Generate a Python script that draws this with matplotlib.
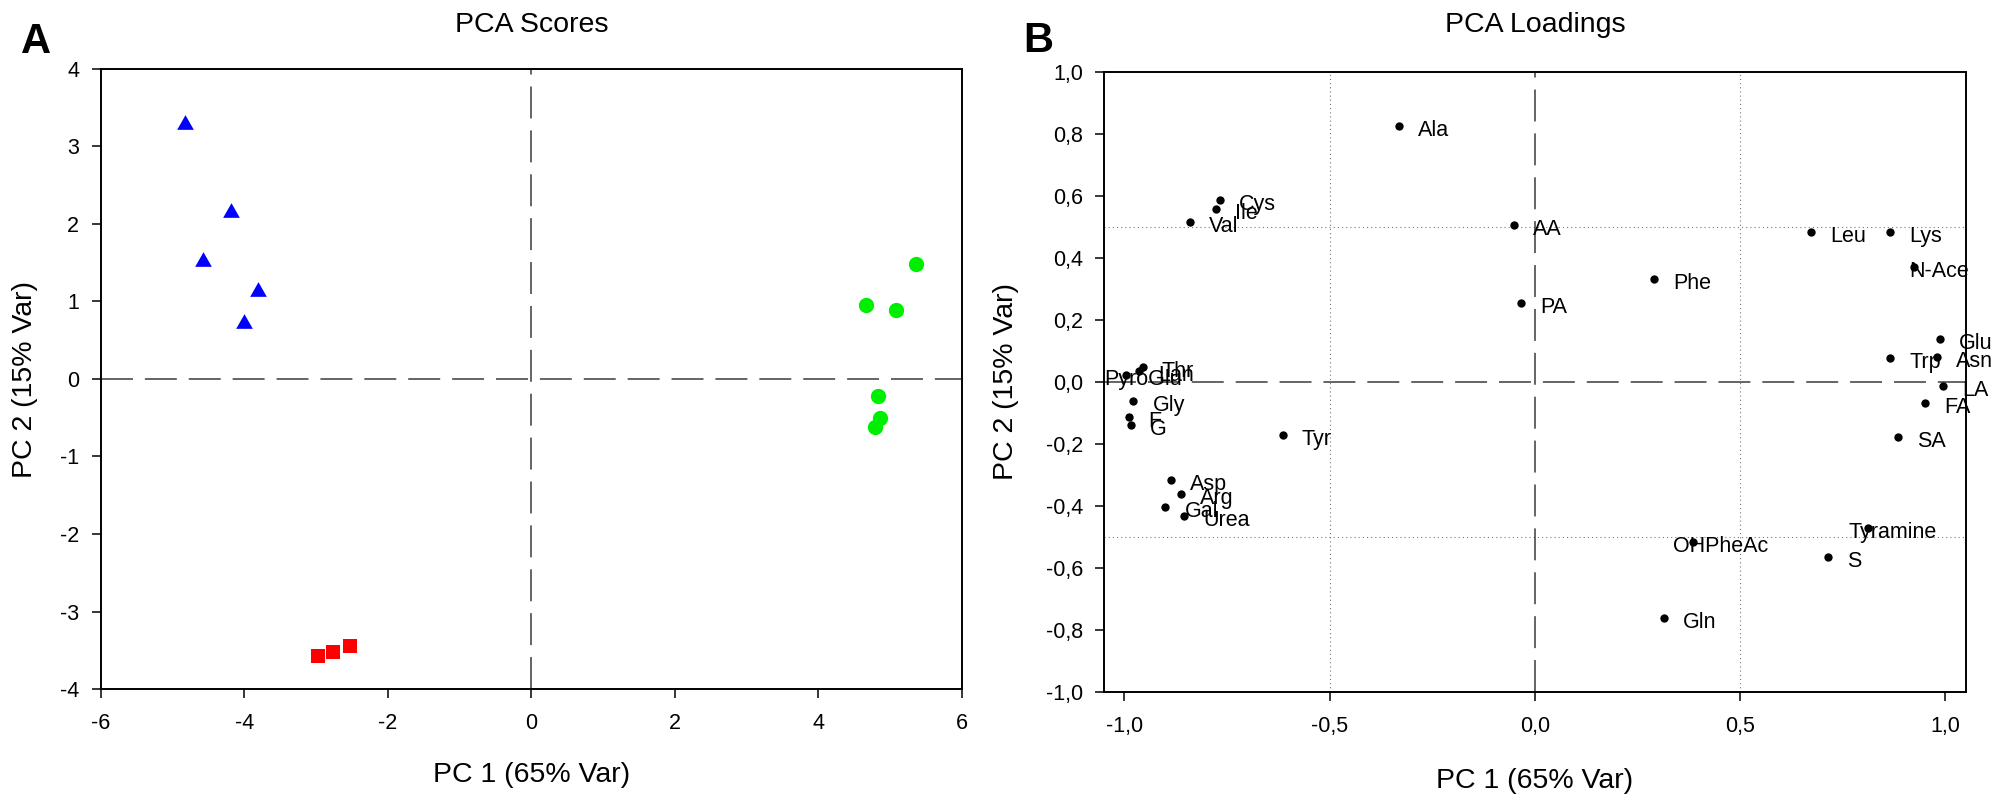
import matplotlib
matplotlib.use("Agg")
import matplotlib.pyplot as plt
from matplotlib.path import Path
from matplotlib.ticker import FuncFormatter, FixedLocator

plt.rcParams['font.family'] = ['Liberation Sans', 'DejaVu Sans']
plt.rcParams['axes.unicode_minus'] = False
plt.rcParams['lines.scale_dashes'] = False

# ---------------- data ----------------
# PCA scores (panel A)
group1_x = [-4.83, -4.18, -4.58, -3.81, -4.01]      # blue triangles
group1_y = [3.32, 2.18, 1.55, 1.16, 0.75]
group2_x = [-2.975, -2.77, -2.52]                    # red squares
group2_y = [-3.57, -3.52, -3.44]
group3_x = [5.365, 4.668, 5.077, 4.83, 4.853, 4.794]  # green circles
group3_y = [1.48, 0.955, 0.89, -0.216, -0.499, -0.615]

# PCA loadings (panel B)
load_names = ['Ala', 'Cys', 'Ile', 'Val', 'AA', 'PA', 'Phe', 'Leu', 'Lys', 'N-Ace',
              'Glu', 'Trp', 'Asn', 'LA', 'FA', 'SA', 'Tyramine', 'OHPheAc', 'S', 'Gln',
              'Tyr', 'Lan', 'Thr', 'PyroGlu', 'Gly', 'F', 'G', 'Asp', 'Arg', 'Gal', 'Urea']
load_x = [-0.33, -0.768, -0.777, -0.840, -0.051, -0.033, 0.292, 0.674, 0.866, 0.924,
          0.988, 0.866, 0.981, 0.996, 0.952, 0.886, 0.812, 0.386, 0.715, 0.314,
          -0.614, -0.965, -0.955, -0.997, -0.978, -0.989, -0.984, -0.886, -0.862, -0.900, -0.854]
load_y = [0.825, 0.587, 0.557, 0.515, 0.506, 0.256, 0.333, 0.485, 0.485, 0.372,
          0.140, 0.079, 0.081, -0.013, -0.067, -0.176, -0.469, -0.514, -0.564, -0.761,
          -0.171, 0.035, 0.050, 0.023, -0.060, -0.112, -0.137, -0.317, -0.362, -0.403, -0.432]

scores_xticks = [-6, -4, -2, 0, 2, 4, 6]
scores_yticks = [-4, -3, -2, -1, 0, 1, 2, 3, 4]
load_xticks = [-1.0, -0.5, 0.0, 0.5, 1.0]
load_yticks = [-1.0, -0.8, -0.6, -0.4, -0.2, 0.0, 0.2, 0.4, 0.6, 0.8, 1.0]

# label offsets in pixels (style, not data)
default_off = (19, -10)
special_off = {'OHPheAc': (-20, -10), 'Tyramine': (-19, -10), 'N-Ace': (-5, -10),
               'PyroGlu': (-21, -10)}

# ---------------- figure ----------------
W, H = 2002, 802
fig = plt.figure(figsize=(W / 100, H / 100), dpi=100)

def px_axes(l, t, r, b):
    return fig.add_axes([l / W, 1 - b / H, (r - l) / W, (b - t) / H])

ax1 = px_axes(100.7, 69, 962, 689)
ax2 = px_axes(1104.3, 72, 1965.7, 692.3)

TICK_FS = 15.5
LABEL_FS = 20.5

def style_axes(ax):
    for s in ax.spines.values():
        s.set_linewidth(1.4)
        s.set_color('black')
    ax.tick_params(axis='both', direction='out', length=6.5, width=1.1,
                   labelsize=TICK_FS, top=False, right=False, color='black')
    ax.tick_params(axis='x', pad=10.5)
    ax.tick_params(axis='y', pad=9.0)

dash_style = dict(color='#3a3a3a', linewidth=1.1, dashes=(23, 8.6), zorder=1)
dot_style = dict(color='#777777', linewidth=0.8, dashes=(0.8, 2.2), zorder=1)

# Panel A
style_axes(ax1)
ax1.set_xlim(-6, 6)
ax1.set_ylim(-4, 4)
ax1.xaxis.set_major_locator(FixedLocator(scores_xticks))
ax1.yaxis.set_major_locator(FixedLocator(scores_yticks))
ax1.xaxis.set_major_formatter(FuncFormatter(lambda v, p: f"{v:.0f}"))
ax1.yaxis.set_major_formatter(FuncFormatter(lambda v, p: f"{v:.0f}"))
ax1.axhline(0, **dash_style)
ax1.axvline(0, **dash_style)

tri = Path([(-1, -0.88), (1, -0.88), (0, 0.88), (-1, -0.88)],
           [Path.MOVETO, Path.LINETO, Path.LINETO, Path.CLOSEPOLY])
ax1.plot(group1_x, group1_y, linestyle='none', marker=tri, markersize=12,
         color='#0000ff', markeredgewidth=0, zorder=3)
ax1.plot(group2_x, group2_y, linestyle='none', marker='s', markersize=10.3,
         color='#ff0000', markeredgewidth=0, zorder=3)
ax1.plot(group3_x, group3_y, linestyle='none', marker='o', markersize=11,
         color='#00ee00', markeredgewidth=0, zorder=3)

# Panel B
style_axes(ax2)
ax2.set_xlim(-1.049, 1.0505)
ax2.set_ylim(-1.0, 1.0)
ax2.xaxis.set_major_locator(FixedLocator(load_xticks))
ax2.yaxis.set_major_locator(FixedLocator(load_yticks))
comma = FuncFormatter(lambda v, p: (f"{v:.1f}".replace('.', ',')).replace('-0,0', '0,0'))
ax2.xaxis.set_major_formatter(comma)
ax2.yaxis.set_major_formatter(comma)
for v in (-0.5, 0.5):
    ax2.axhline(v, **dot_style)
    ax2.axvline(v, **dot_style)
ax2.axhline(0, **dash_style)
ax2.axvline(0, **dash_style)
ax2.plot(load_x, load_y, linestyle='none', marker='o', markersize=6,
         color='black', markeredgewidth=0, zorder=3)
for name, x, y in zip(load_names, load_x, load_y):
    off = special_off.get(name, default_off)
    ax2.annotate(name, (x, y), xytext=off, textcoords='offset pixels',
                 ha='left', va='baseline', fontsize=TICK_FS, color='black',
                 annotation_clip=False, zorder=4)

# Texts in figure pixel coordinates
def ftext(px, py, s, **kw):
    fig.text(px / W, 1 - py / H, s, **kw)

ftext(531.4, 31.6, 'PCA Scores', fontsize=LABEL_FS, ha='center', va='baseline')
ftext(1535, 31.6, 'PCA Loadings', fontsize=LABEL_FS, ha='center', va='baseline')
ftext(531.4, 782, 'PC 1 (65% Var)', fontsize=LABEL_FS, ha='center', va='baseline')
ftext(1535, 788, 'PC 1 (65% Var)', fontsize=LABEL_FS, ha='center', va='baseline')
ftext(32, 379, 'PC 2 (15% Var)', fontsize=LABEL_FS, ha='center', va='baseline',
      rotation=90, rotation_mode='anchor')
ftext(1013, 382, 'PC 2 (15% Var)', fontsize=LABEL_FS, ha='center', va='baseline',
      rotation=90, rotation_mode='anchor')
ftext(21, 52.6, 'A', fontsize=30, fontweight='bold', ha='left', va='baseline')
ftext(1023, 52, 'B', fontsize=30, fontweight='bold', ha='left', va='baseline')

fig.savefig('out.png', dpi=100)
